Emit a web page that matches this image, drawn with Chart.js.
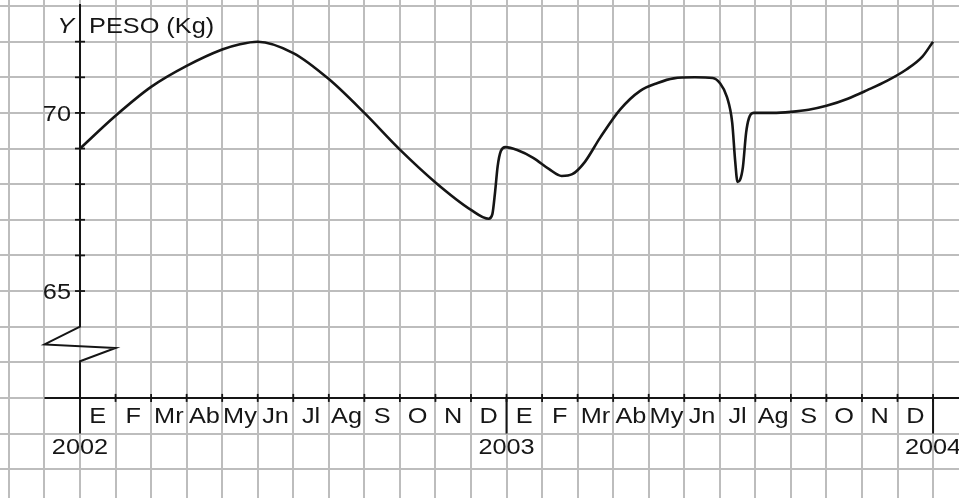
<!DOCTYPE html>
<html>
<head>
<meta charset="utf-8">
<script src="https://cdn.jsdelivr.net/npm/chart.js@4/dist/chart.umd.min.js"></script>
<style>
  html,body{margin:0;padding:0;background:#fff;}
  #wrap{width:959px;height:498px;}
</style>
</head>
<body>
<div id="wrap"><canvas id="peso" width="959" height="498"></canvas></div>
<script>
// months counted from January 2002 (0) to January 2004 (24)
const monthPos = [0, 1, 2, 3, 4, 4.5, 5, 6, 7, 8, 9, 10, 11, 11.5, 11.6, 11.68, 11.75, 11.84, 11.97, 12.3, 12.75, 13.2, 13.55, 13.85, 14.2, 14.63, 15.2, 15.76, 16.25, 16.7, 17.3, 17.8, 18.0, 18.2, 18.35, 18.43, 18.5, 18.57, 18.65, 18.74, 18.82, 18.95, 19.5, 20, 20.5, 21, 21.6, 22.15, 22.7, 23.25, 23.7, 24];
const pesoKg   = [69.0, 69.92, 70.73, 71.32, 71.78, 71.93, 72.0, 71.68, 70.95, 70.0, 68.97, 68.05, 67.28, 67.03, 67.15, 67.8, 68.5, 68.93, 69.04, 68.96, 68.74, 68.42, 68.23, 68.28, 68.62, 69.3, 70.1, 70.62, 70.84, 70.97, 71.0, 70.98, 70.84, 70.45, 69.72, 68.68, 68.06, 68.12, 68.48, 69.44, 69.85, 70.0, 70.0, 70.03, 70.09, 70.2, 70.4, 70.64, 70.9, 71.22, 71.58, 72.0];

const monthLabels = ['E','F','Mr','Ab','My','Jn','Jl','Ag','S','O','N','D','E','F','Mr','Ab','My','Jn','Jl','Ag','S','O','N','D'];
const yearLabels = ['2002','2003','2004'];
const yearPos = [0, 12, 24];
const yLabelVals = [70, 65];
const yTickVals = [65, 66, 67, 68, 69, 70, 71, 72];
const xGridVals = Array.from({length: 27}, (_, i) => i - 2);
const yGridVals = Array.from({length: 14}, (_, i) => 60 + i);

const INK = '#151515';

function txt(ctx, s, x, y, align, italic){
  ctx.save();
  ctx.translate(x, y);
  ctx.scale(1.15, 1);
  ctx.font = (italic ? 'italic ' : '') + '22px "Liberation Sans", Arial, sans-serif';
  ctx.fillStyle = '#161616';
  ctx.textAlign = align;
  ctx.textBaseline = 'alphabetic';
  ctx.fillText(s, 0, 0);
  ctx.restore();
}

const axesPlugin = {
  id: 'axesPlugin',
  afterDatasetsDraw(chart){
    const ctx = chart.ctx, sx = chart.scales.x, sy = chart.scales.y;
    const X = v => sx.getPixelForValue(v), Y = v => sy.getPixelForValue(v);
    ctx.save();
    ctx.strokeStyle = INK;
    ctx.lineWidth = 2;
    // y axis with break
    ctx.beginPath();
    ctx.moveTo(X(0), 4);
    ctx.lineTo(X(0), Y(64));
    ctx.lineTo(X(-1), Y(63.5));
    ctx.lineTo(X(1), Y(63.4));
    ctx.lineTo(X(0), Y(63.03));
    ctx.lineTo(X(0), Y(61));
    ctx.stroke();
    // x axis
    ctx.beginPath();
    ctx.moveTo(X(-1), Y(62));
    ctx.lineTo(sx.right, Y(62));
    ctx.stroke();
    // year separators
    [12, 24].forEach(v => {
      ctx.beginPath();
      ctx.moveTo(X(v), Y(62));
      ctx.lineTo(X(v), Y(61));
      ctx.stroke();
    });
    // tick marks
    ctx.lineWidth = 1.8;
    yTickVals.forEach(v => {
      ctx.beginPath();
      ctx.moveTo(X(0) - 5, Y(v));
      ctx.lineTo(X(0) + 5, Y(v));
      ctx.stroke();
    });
    for (let m = 1; m <= 24; m++) {
      ctx.beginPath();
      ctx.moveTo(X(m), Y(62) - 4);
      ctx.lineTo(X(m), Y(62) + 4);
      ctx.stroke();
    }
    ctx.restore();

    // texts
    txt(ctx, 'Y', X(0) - 6, Y(72) - 9, 'right', true);
    txt(ctx, 'PESO (Kg)', X(0) + 9, Y(72) - 9, 'left', false);
    yLabelVals.forEach(v => txt(ctx, String(v), X(0) - 9, Y(v) + 8, 'right', false));
    monthLabels.forEach((s, i) => txt(ctx, s, X(i + 0.5), Y(62) + 25, 'center', false));
    yearLabels.forEach((s, i) => txt(ctx, s, X(yearPos[i]), Y(62) + 56, 'center', false));
  }
};

new Chart(document.getElementById('peso'), {
  type: 'line',
  data: {
    datasets: [{
      data: monthPos.map((m, i) => ({x: m, y: pesoKg[i]})),
      borderColor: INK,
      borderWidth: 2.6,
      pointRadius: 0,
      fill: false,
      cubicInterpolationMode: 'monotone'
    }]
  },
  options: {
    responsive: false,
    animation: false,
    events: [],
    layout: {padding: 0},
    plugins: {legend: {display: false}, tooltip: {enabled: false}},
    scales: {
      x: {
        type: 'linear',
        min: -2.251, max: 24.73,
        afterBuildTicks: s => { s.ticks = xGridVals.map(v => ({value: v})); },
        ticks: {display: false},
        border: {display: false},
        grid: {color: '#bdbdbd', lineWidth: 2, drawTicks: false}
      },
      y: {
        type: 'linear',
        min: 59.19, max: 73.17,
        afterBuildTicks: s => { s.ticks = yGridVals.map(v => ({value: v})); },
        ticks: {display: false},
        border: {display: false},
        grid: {color: '#bdbdbd', lineWidth: 2, drawTicks: false}
      }
    }
  },
  plugins: [axesPlugin]
});
</script>
</body>
</html>
